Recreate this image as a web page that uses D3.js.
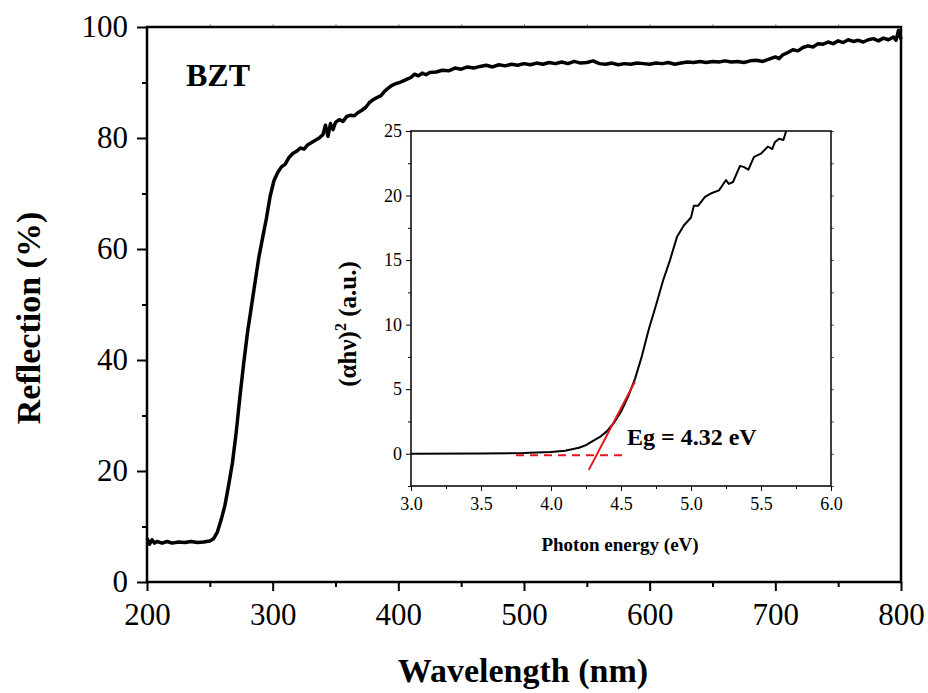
<!DOCTYPE html>
<html>
<head>
<meta charset="utf-8">
<script src="https://cdn.jsdelivr.net/npm/d3@7"></script>
<style>
  body { margin: 0; background: #fff; }
  svg { display: block; }
</style>
</head>
<body>
<svg id="chart" width="928" height="693" font-family="Liberation Serif, Times New Roman, serif"></svg>
<script>
const serif = "Liberation Serif, Times New Roman, serif";

// main spectrum: wavelength (nm) vs reflection (%)
const wavelength = [200,202,204,206,208,212,216,220,225,230,235,240,245,250,253,256,259,262,265,268,271,274,277,280,283,286,289,292,295,298,301,304,307,310,313,316,319,322,325,328,331,334,337,340,342,344,346,348,350,353,356,359,362,365,368,371,374,377,380,383,386,389,392,395,398,401,404,407,410,413,416,419,422,425,430,435,440,445,450,455,460,465,470,475,480,485,490,495,500,505,510,515,520,525,530,535,540,545,550,555,560,565,570,575,580,585,590,595,600,605,610,615,620,625,630,635,640,645,650,655,660,665,670,675,680,685,690,695,700,703,706,710,714,718,722,726,730,734,738,742,746,750,754,758,762,766,770,774,778,782,786,790,794,796,798,800];
const reflection = [7.9,6.8,7.6,7.0,7.3,7.0,7.3,7.0,7.2,7.1,7.3,7.1,7.2,7.4,7.8,9.0,11.2,13.8,17.5,21.5,27.0,33.5,39.5,45.0,49.5,54.0,58.5,62.0,65.5,69.5,72.3,73.8,74.8,75.3,76.5,77.2,77.6,78.2,78.0,78.8,79.2,79.6,80.0,80.6,82.3,80.3,82.6,81.5,82.8,83.3,83.0,83.9,84.1,84.0,84.6,85.0,85.5,86.4,86.9,87.3,87.6,88.4,89.0,89.5,89.8,90.0,90.3,90.6,90.9,91.5,91.2,91.7,91.4,91.8,91.9,92.2,92.1,92.6,92.4,92.8,92.6,92.9,93.1,92.8,93.2,93.0,93.3,93.1,93.4,93.2,93.5,93.3,93.6,93.4,93.7,93.4,93.8,93.5,93.6,93.9,93.4,93.3,93.5,93.2,93.4,93.3,93.5,93.4,93.3,93.5,93.4,93.6,93.3,93.5,93.7,93.6,93.8,93.6,93.8,93.7,93.9,93.7,93.8,93.6,93.9,94.0,93.8,94.2,94.6,94.3,95.0,95.4,95.9,95.7,96.3,96.6,96.4,97.0,96.9,97.3,97.0,97.5,97.2,97.7,97.4,97.6,97.3,97.7,97.9,97.5,98.0,97.7,98.2,97.6,99.4,97.8];

// inset: Tauc plot
const energy = [3.0,3.5,3.8,4.0,4.1,4.2,4.25,4.3,4.35,4.4,4.45,4.5,4.55,4.6,4.65,4.7,4.75,4.8,4.85,4.9,4.95,5.0,5.02,5.05,5.1,5.15,5.2,5.25,5.27,5.3,5.35,5.38,5.41,5.45,5.5,5.55,5.58,5.6,5.63,5.66,5.68];
const tauc = [0,0.02,0.05,0.13,0.23,0.46,0.67,1.0,1.3,1.75,2.4,3.25,4.4,5.8,7.6,9.7,11.5,13.4,15.0,16.8,17.7,18.3,19.2,19.2,19.9,20.2,20.4,21.2,20.9,21.05,22.3,22.2,22.0,23.0,23.25,23.8,23.6,24.15,24.4,24.3,25.0];

// fit lines
const baseLine = [[3.75, -0.12], [4.52, -0.12]];
const tangentLine = [[4.27, -1.25], [4.60, 5.6]];

const xTicks = [200,300,400,500,600,700,800];
const yTicks = [0,20,40,60,80,100];
const insetXTicks = [3.0,3.5,4.0,4.5,5.0,5.5,6.0];
const insetYTicks = [0,5,10,15,20,25];

const svg = d3.select("#chart");

// ---- main plot
const x = d3.scaleLinear().domain([200, 800]).range([147, 901]);
const y = d3.scaleLinear().domain([0, 100]).range([582, 27]);

// minor ticks first (no labels)
svg.append("g")
    .attr("transform", "translate(0,582)")
    .call(d3.axisBottom(x).tickValues(d3.range(250, 800, 100)).tickSize(5).tickFormat(""))
    .call(g => g.select(".domain").remove())
    .selectAll("line").attr("stroke-width", 2);
svg.append("g")
    .attr("transform", "translate(147,0)")
    .call(d3.axisLeft(y).tickValues(d3.range(10, 100, 20)).tickSize(5).tickFormat(""))
    .call(g => g.select(".domain").remove())
    .selectAll("line").attr("stroke-width", 2);

// top minor ticks (faint)
svg.append("g")
    .attr("transform", "translate(0,27)")
    .call(d3.axisTop(x).tickValues(d3.range(250, 800, 50)).tickSize(3).tickFormat(""))
    .call(g => g.select(".domain").remove())
    .selectAll("line").attr("stroke", "#999");

const gx = svg.append("g")
    .attr("transform", "translate(0,582)")
    .call(d3.axisBottom(x).tickValues(xTicks).tickSize(9).tickPadding(12).tickFormat(d3.format("d")))
    .attr("font-family", serif).attr("font-size", 31);
gx.select(".domain").remove();
gx.selectAll("line").attr("stroke-width", 2);

const gy = svg.append("g")
    .attr("transform", "translate(147,0)")
    .call(d3.axisLeft(y).tickValues(yTicks).tickSize(10).tickPadding(9).tickFormat(d3.format("d")))
    .attr("font-family", serif).attr("font-size", 31);
gy.select(".domain").remove();
gy.selectAll("line").attr("stroke-width", 2);

svg.append("rect")
    .attr("x", 147).attr("y", 27)
    .attr("width", 901 - 147).attr("height", 582 - 27)
    .attr("fill", "none").attr("stroke", "#000").attr("stroke-width", 2.5);

const line = d3.line().x((d, i) => x(wavelength[i])).y(d => y(d));
svg.append("path")
    .datum(reflection)
    .attr("d", line)
    .attr("fill", "none")
    .attr("stroke", "#000")
    .attr("stroke-width", 3.5)
    .attr("stroke-linejoin", "round");

svg.append("text")
    .attr("x", 186).attr("y", 86)
    .attr("font-size", 32).attr("font-weight", "bold")
    .text("BZT");

svg.append("text")
    .attr("x", 523).attr("y", 682)
    .attr("text-anchor", "middle")
    .attr("font-size", 34).attr("font-weight", "bold")
    .text("Wavelength (nm)");

svg.append("text")
    .attr("transform", "translate(40,318) rotate(-90)")
    .attr("text-anchor", "middle")
    .attr("font-size", 34).attr("font-weight", "bold")
    .text("Reflection (%)");

// ---- inset
const ix = d3.scaleLinear().domain([3, 6]).range([411, 831]);
const iy = d3.scaleLinear().domain([-2.5, 25]).range([486, 131]);

const inset = svg.append("g");
inset.append("rect")
    .attr("x", 411).attr("y", 131)
    .attr("width", 831 - 411).attr("height", 486 - 131)
    .attr("fill", "#fff");

inset.append("g")
    .attr("transform", "translate(0,486)")
    .call(d3.axisBottom(ix).tickValues(d3.range(3.25, 6, 0.5)).tickSize(3).tickFormat(""))
    .call(g => g.select(".domain").remove());
inset.append("g")
    .attr("transform", "translate(411,0)")
    .call(d3.axisLeft(iy).tickValues(d3.range(-2.5, 25, 5)).tickSize(3).tickFormat(""))
    .call(g => g.select(".domain").remove());
inset.append("g")
    .attr("transform", "translate(831,0)")
    .call(d3.axisLeft(iy).tickValues(d3.range(-2.5, 25.1, 2.5)).tickSize(-3).tickFormat(""))
    .call(g => g.select(".domain").remove())
    .selectAll("line").attr("stroke", "#555");

const igx = inset.append("g")
    .attr("transform", "translate(0,486)")
    .call(d3.axisBottom(ix).tickValues(insetXTicks).tickSize(5).tickPadding(6).tickFormat(d3.format(".1f")))
    .attr("font-family", serif).attr("font-size", 18);
igx.select(".domain").remove();

const igy = inset.append("g")
    .attr("transform", "translate(411,0)")
    .call(d3.axisLeft(iy).tickValues(insetYTicks).tickSize(5).tickPadding(4).tickFormat(d3.format("d")))
    .attr("font-family", serif).attr("font-size", 18);
igy.select(".domain").remove();

inset.append("rect")
    .attr("x", 411).attr("y", 131)
    .attr("width", 831 - 411).attr("height", 486 - 131)
    .attr("fill", "none").attr("stroke", "#000").attr("stroke-width", 1.5);

const iline = d3.line().x((d, i) => ix(energy[i])).y(d => iy(d));
inset.append("path")
    .datum(tauc)
    .attr("d", iline)
    .attr("fill", "none")
    .attr("stroke", "#000")
    .attr("stroke-width", 2)
    .attr("stroke-linejoin", "round");

const seg = d3.line().x(d => ix(d[0])).y(d => iy(d[1]));
inset.append("path")
    .attr("d", seg(baseLine))
    .attr("stroke", "#e8141c").attr("stroke-width", 2)
    .attr("stroke-dasharray", "8,6").attr("fill", "none");
inset.append("path")
    .attr("d", seg(tangentLine))
    .attr("stroke", "#e8141c").attr("stroke-width", 2).attr("fill", "none");

inset.append("text")
    .attr("x", 627).attr("y", 445)
    .attr("font-size", 24).attr("font-weight", "bold")
    .text("Eg = 4.32 eV");

inset.append("text")
    .attr("x", 620).attr("y", 551)
    .attr("text-anchor", "middle")
    .attr("font-size", 19).attr("font-weight", "bold")
    .text("Photon energy (eV)");

const yl = inset.append("text")
    .attr("transform", "translate(356,324) rotate(-90)")
    .attr("text-anchor", "middle")
    .attr("font-size", 25).attr("font-weight", "bold");
yl.append("tspan").text("(\u03B1h\u03BD)");
yl.append("tspan").attr("dy", -10).attr("font-size", 16).text("2");
yl.append("tspan").attr("dy", 10).text(" (a.u.)");
</script>
</body>
</html>
